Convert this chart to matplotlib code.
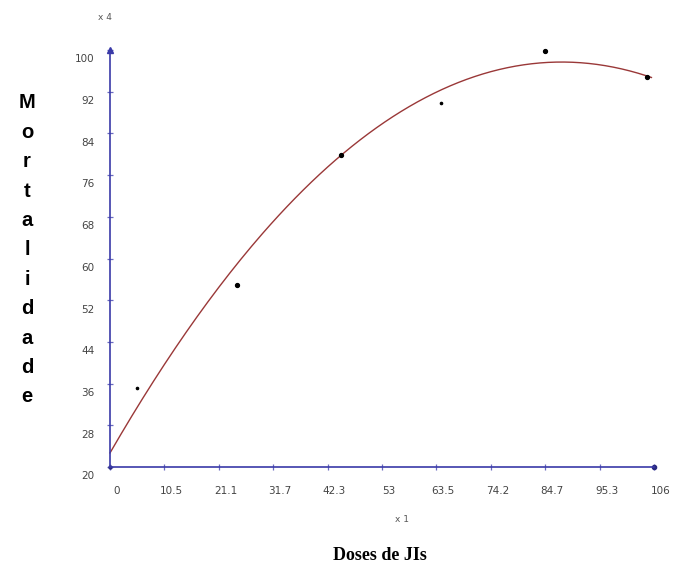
import numpy as np
import matplotlib.pyplot as plt
from matplotlib.transforms import ScaledTranslation

# pontos observados (dose, mortalidade)
doses = [5.3, 24.7, 45.0, 64.5, 84.8, 104.6]
mortalidade = [35.2, 54.9, 79.9, 89.8, 99.8, 94.8]
big_pts = [False, True, True, False, True, True]

# curva ajustada (quadratica): c2, c1, c0
fit_coef = [-0.00968, 1.704, 22.7]
fit_range = [0, 105.5]

xticks = [0, 10.6, 21.2, 31.8, 42.4, 53, 63.6, 74.2, 84.8, 95.4, 106]
xticklabels = ['0', '10.5', '21.1', '31.7', '42.3', '53', '63.5', '74.2', '84.7', '95.3', '106']
yticks = [20, 28, 36, 44, 52, 60, 68, 76, 84, 92, 100]

axis_col = '#3a3aa8'

fig = plt.figure(figsize=(6.89, 5.75), dpi=100)
ax = fig.add_axes([110 / 689, 108 / 575, 544 / 689, 417 / 575])

xs = np.linspace(fit_range[0], fit_range[1], 200)
ax.plot(xs, np.polyval(fit_coef, xs), color='#9a3838', lw=1.0, clip_on=False)

for x, y, b in zip(doses, mortalidade, big_pts):
    ax.plot(x, y, 'o', color='black', ms=2.8 if b else 1.6, clip_on=False)

ax.set_xlim(0, 106)
ax.set_ylim(20, 100)
for s in ['top', 'right']:
    ax.spines[s].set_visible(False)
for s in ['left', 'bottom']:
    ax.spines[s].set_color(axis_col)
    ax.spines[s].set_linewidth(1.2)

ax.plot(0, 100, '^', color=axis_col, ms=4.5, clip_on=False)
ax.plot(106, 20, 'o', color='#2a2a80', ms=3, clip_on=False)
ax.plot(0, 20, 'o', color='#2a2a80', ms=2.2, clip_on=False)

ax.set_xticks(xticks)
ax.set_xticklabels(xticklabels)
ax.set_yticks(yticks)
ax.tick_params(direction='inout', length=4, width=0.9, color='#6a6ac0',
               labelsize=7.5, labelcolor='#444444')
ax.tick_params(axis='x', pad=12)
ax.tick_params(axis='y', pad=9)
for lab in ax.get_yticklabels():
    lab.set_transform(lab.get_transform() + ScaledTranslation(0, -6 / 72, fig.dpi_scale_trans))
for lab in ax.get_xticklabels():
    lab.set_transform(lab.get_transform() + ScaledTranslation(5 / 72, 0, fig.dpi_scale_trans))

fig.text(105 / 689, 1 - 17 / 575, 'x 4', fontsize=6.5, color='#555555', ha='center', va='center')
fig.text(402 / 689, 1 - 519 / 575, 'x 1', fontsize=6.5, color='#555555', ha='center', va='center')
fig.text(380 / 689, 1 - 556 / 575, 'Doses de JIs', fontsize=13, fontweight='bold',
         family='Liberation Serif', ha='center', va='center')

word = 'Mortalidade'
y0, y1 = 103, 397
for i, ch in enumerate(word):
    yy = y0 + (y1 - y0) * i / (len(word) - 1)
    fig.text(27 / 689, 1 - yy / 575, ch, fontsize=14.5, fontweight='bold',
             family='Liberation Sans', ha='center', va='center')

fig.savefig('out.png', dpi=100)
